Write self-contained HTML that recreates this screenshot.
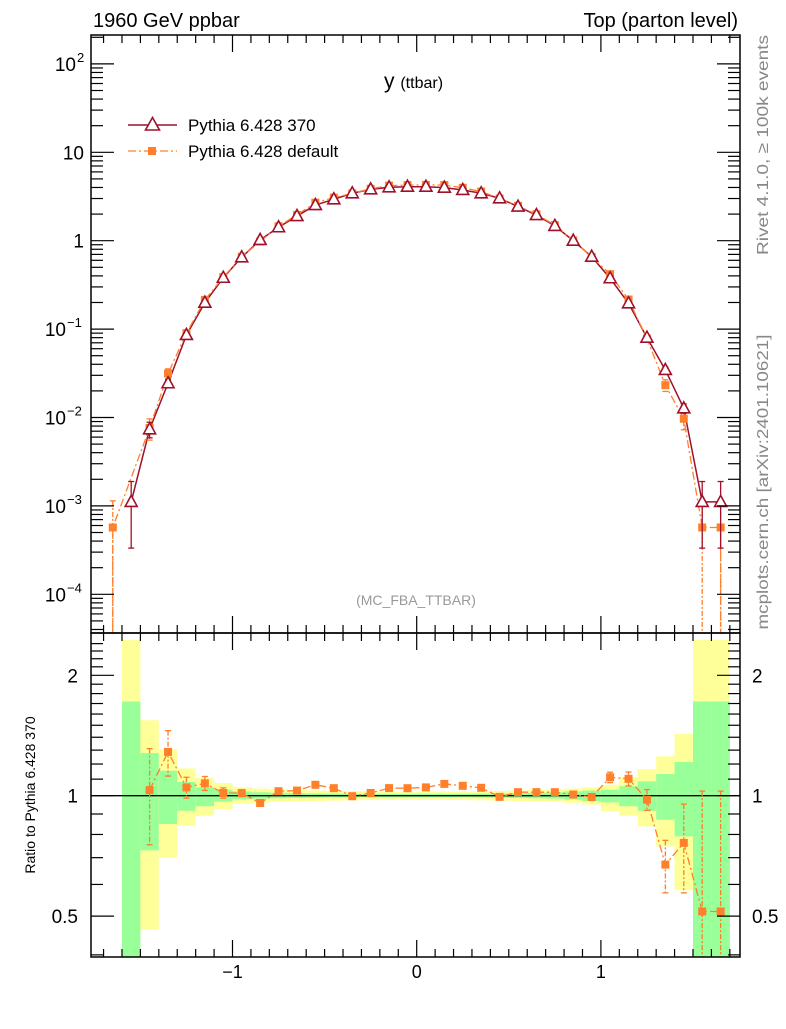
<!DOCTYPE html>
<html><head><meta charset="utf-8"><style>
html,body{margin:0;padding:0;background:#fff;}
svg text{font-family:"Liberation Sans",sans-serif;}
</style></head><body>
<svg id="c" width="786" height="1024" xmlns="http://www.w3.org/2000/svg">
<g id="bands"></g>
<g id="marks"></g>
<g id="axes"></g>
<text x="93" y="27" font-size="20">1960 GeV ppbar</text>
<text x="738" y="27" font-size="20" text-anchor="end">Top (parton level)</text>
<text x="384" y="88" font-size="21">y <tspan font-size="16">(ttbar)</tspan></text>
<g>
<g>
<line x1="128" y1="125" x2="177" y2="125" stroke="#a0102a" stroke-width="1.5"/>
<path d="M152.5,117.5 L159.5,130 L145.5,130 Z" fill="#fff" stroke="#a0102a" stroke-width="1.6"/>
<text x="188" y="131" font-size="17">Pythia 6.428 370</text></g>
<g>
<line x1="128" y1="151" x2="177" y2="151" stroke="#ff7f2a" stroke-width="1.3" stroke-dasharray="8,3,2,3"/>
<rect x="148" y="147" width="8" height="8" fill="#ff7f2a"/>
<text x="188" y="157" font-size="17">Pythia 6.428 default</text></g>
</g>
<text x="416" y="605" font-size="14" fill="#999" text-anchor="middle">(MC_FBA_TTBAR)</text>
<text transform="translate(768,145) rotate(-90)" font-size="16" fill="#888" text-anchor="middle" textLength="220" lengthAdjust="spacingAndGlyphs">Rivet 4.1.0, ≥ 100k events</text>
<text transform="translate(768,482) rotate(-90)" font-size="16" fill="#888" text-anchor="middle" textLength="295" lengthAdjust="spacingAndGlyphs">mcplots.cern.ch [arXiv:2401.10621]</text>
<text transform="translate(35,795) rotate(-90)" font-size="14" text-anchor="middle">Ratio to Pythia 6.428 370</text>
</svg>
<script>
// bin centers
const centers = [-1.65,-1.55,-1.45,-1.35,-1.25,-1.15,-1.05,-0.95,-0.85,-0.75,-0.65,-0.55,-0.45,-0.35,-0.25,-0.15,-0.05,0.05,0.15,0.25,0.35,0.45,0.55,0.65,0.75,0.85,0.95,1.05,1.15,1.25,1.35,1.45,1.55,1.65];
const refVals = [null,1.11e-3,7.36e-3,0.0244,0.0858,0.199,0.381,0.649,1.02,1.42,1.90,2.53,2.94,3.44,3.81,4.02,4.08,4.08,3.98,3.75,3.44,3.02,2.43,1.95,1.47,1.0,0.659,0.376,0.196,0.080,0.0345,0.0127,1.11e-3,1.11e-3];
const refErr = [0,0.7,0.2,0.1,0.05,0.03,0.02,0.015,0.01,0.01,0.01,0.01,0.01,0.01,0.01,0.01,0.01,0.01,0.01,0.01,0.01,0.01,0.01,0.01,0.01,0.01,0.015,0.02,0.03,0.05,0.08,0.12,0.7,0.7];
const defVals = [5.7e-4,null,7.6e-3,0.0314,0.090,0.2137,0.387,0.659,0.978,1.457,1.957,2.694,3.07,3.43,3.87,4.20,4.26,4.28,4.26,3.97,3.60,3.00,2.48,1.99,1.50,1.007,0.654,0.418,0.216,0.0782,0.0232,0.00968,5.7e-4,5.7e-4];
const defErr = [1.0,0,0.27,0.13,0.06,0.04,0.03,0.02,0.015,0.015,0.015,0.015,0.015,0.015,0.015,0.015,0.015,0.015,0.015,0.015,0.015,0.015,0.015,0.015,0.015,0.015,0.02,0.03,0.04,0.06,0.15,0.25,1.0,1.0];
// ref uncertainty bands in ratio units (per bin, same order as centers)
const greenUp = [null,1.72,1.278,1.155,1.082,1.05,1.035,1.025,1.02,1.017,1.015,1.013,1.012,1.011,1.01,1.01,1.01,1.01,1.01,1.011,1.012,1.013,1.015,1.017,1.02,1.025,1.03,1.035,1.056,1.086,1.133,1.214,1.72,1.72];
const greenDn = [null,0.01,0.73,0.85,0.917,0.941,0.966,0.98,0.983,0.985,0.987,0.988,0.989,0.99,0.99,0.99,0.99,0.99,0.99,0.99,0.989,0.988,0.987,0.985,0.983,0.978,0.97,0.962,0.941,0.917,0.871,0.791,0.01,0.01];
const yellowUp = [null,2.45,1.544,1.308,1.17,1.107,1.076,1.05,1.042,1.037,1.033,1.03,1.028,1.026,1.025,1.024,1.024,1.024,1.024,1.025,1.026,1.028,1.03,1.033,1.037,1.042,1.05,1.065,1.113,1.166,1.254,1.427,2.45,2.45];
const yellowDn = [null,0.01,0.462,0.699,0.841,0.891,0.926,0.955,0.96,0.965,0.968,0.97,0.972,0.974,0.975,0.976,0.976,0.976,0.976,0.975,0.974,0.972,0.97,0.968,0.965,0.96,0.95,0.914,0.891,0.838,0.747,0.58,0.01,0.01];
const xTicks = [-1,0,1];
const xTickLabels = ["\u22121","0","1"];

const NS="http://www.w3.org/2000/svg";
const L=91,R=740,T=35,MB=633,B=957;
const X=x=>416.7+184.2*x;
const Y=v=>240.7-88.4*Math.log10(v);
const RY=r=>795.7-400*Math.log10(r);
const clipM=y=>Math.max(T,Math.min(MB,y));
const clipR=y=>Math.max(MB,Math.min(B,y));
function el(tag,attrs,parent){const e=document.createElementNS(NS,tag);for(const k in attrs)e.setAttribute(k,attrs[k]);parent.appendChild(e);return e;}
const bands=document.getElementById('bands'),marks=document.getElementById('marks'),axes=document.getElementById('axes');
const RED="#a0102a",OR="#ff7f2a";

centers.forEach((c,i)=>{
  if(yellowUp[i]==null)return;
  const x0=X(c-0.05),x1=X(c+0.05);
  const yb=el('rect',{x:x0,y:clipR(RY(yellowUp[i])),width:x1-x0,height:clipR(RY(yellowDn[i]))-clipR(RY(yellowUp[i])),fill:"#ffff99"},bands);
  
  
  const gb=el('rect',{x:x0,y:clipR(RY(greenUp[i])),width:x1-x0,height:clipR(RY(greenDn[i]))-clipR(RY(greenUp[i])),fill:"#99ff99"},bands);
  
  
});
el('line',{x1:L,x2:R,y1:RY(1),y2:RY(1),stroke:"#000","stroke-width":1.3},bands);

let pts=[];
centers.forEach((c,i)=>{if(refVals[i]!=null)pts.push(X(c)+','+Y(refVals[i]));});
const rl=el('polyline',{points:pts.join(' '),fill:"none",stroke:RED,"stroke-width":1.5},marks);


pts=[];
centers.forEach((c,i)=>{if(defVals[i]!=null)pts.push(X(c)+','+Y(defVals[i]));});
pts.unshift(X(centers[0])+','+MB);pts.push(X(centers[centers.length-1])+','+MB);
const dl=el('polyline',{points:pts.join(' '),fill:"none",stroke:OR,"stroke-width":1.3,"stroke-dasharray":"8,3,2,3"},marks);


function errbar(x,ytop,ybot,col,dash,parent,capTop,capBot){
  el('line',{x1:x,x2:x,y1:ytop,y2:ybot,stroke:col,"stroke-width":1.3,"stroke-dasharray":dash||"none"},parent);
  if(capTop)el('line',{x1:x-3,x2:x+3,y1:ytop,y2:ytop,stroke:col,"stroke-width":1.3},parent);
  if(capBot)el('line',{x1:x-3,x2:x+3,y1:ybot,y2:ybot,stroke:col,"stroke-width":1.3},parent);
}
centers.forEach((c,i)=>{
  const x=X(c);
  if(defVals[i]!=null){
    const v=defVals[i],e=defErr[i];
    const lo=v*(1-e);
    const yt=clipM(Y(v*(1+e))),yb=lo>0?clipM(Y(lo)):MB;
    errbar(x,yt,yb,OR,"5,2,2,2",marks,true,lo>0);
    const s=el('rect',{x:x-4,y:Y(v)-4,width:8,height:8,fill:OR},marks);
    
    
  }
  if(refVals[i]!=null){
    const v=refVals[i],e=refErr[i];
    if(e>0.03)errbar(x,clipM(Y(v*(1+e))),clipM(Y(v*(1-e))),RED,null,marks,true,true);
    const y=Y(v);
    const t=el('path',{d:`M${x},${y-6.5} L${x+6},${y+4.5} L${x-6},${y+4.5} Z`,fill:"#fff",stroke:RED,"stroke-width":1.6},marks);
    
    
  }
});
pts=[];
const rpts=[];
centers.forEach((c,i)=>{
  if(defVals[i]!=null&&refVals[i]!=null){
    const r=defVals[i]/refVals[i];rpts.push([X(c),r,defErr[i]]);pts.push(X(c)+','+RY(r));
  }
});
el('polyline',{points:pts.join(' '),fill:"none",stroke:OR,"stroke-width":1.3,"stroke-dasharray":"8,3,2,3"},marks);
rpts.forEach(([x,r,e])=>{
  const lo=r*(1-e);
  errbar(x,clipR(RY(r*(1+e))),lo>0?clipR(RY(lo)):B,OR,"5,2,2,2",marks,true,lo>0&&RY(lo)<B);
  const s=el('rect',{x:x-4,y:RY(r)-4,width:8,height:8,fill:OR},marks);
  
  
});

el('rect',{x:L,y:T,width:R-L,height:MB-T,fill:"none",stroke:"#000","stroke-width":1.5},axes);
el('rect',{x:L,y:MB,width:R-L,height:B-MB,fill:"none",stroke:"#000","stroke-width":1.5},axes);
for(let k=-17;k<=17;k++){
  const x=X(k/10);if(x<L||x>R)continue;
  const maj=(k%10===0),len=maj?17:8;
  [[T,1],[MB,-1],[MB,1],[B,-1]].forEach(([y,d])=>el('line',{x1:x,x2:x,y1:y,y2:y+d*len,stroke:"#000","stroke-width":1.2},axes));
}
xTicks.forEach((t,i)=>{
  const tx=el('text',{x:X(t),y:978,"font-size":18,"text-anchor":"middle"},axes);
  tx.textContent=xTickLabels[i];
  
  
});
for(let d=-5;d<=2;d++){
  for(let m=1;m<=9;m++){
    const y=Y(m*Math.pow(10,d));if(y<T||y>MB)continue;
    const len=m===1?23:12;
    el('line',{x1:L,x2:L+len,y1:y,y2:y,stroke:"#000","stroke-width":1.2},axes);
    el('line',{x1:R,x2:R-len,y1:y,y2:y,stroke:"#000","stroke-width":1.2},axes);
  }
}
const yl=[[-4,"10","−4"],[-3,"10","−3"],[-2,"10","−2"],[-1,"10","−1"],[0,"1",""],[1,"10",""],[2,"10","2"]];
yl.forEach(([d,b,s])=>{
  const baseEnd = s ? (s.length>1 ? 66 : 76) : 84;
  const t=el('text',{x:baseEnd,y:Y(Math.pow(10,d))+7,"font-size":19,"text-anchor":"end"},axes);
  t.textContent=b;
  
  
  if(s){const sp=el('text',{x:baseEnd+1,y:Y(Math.pow(10,d))-2,"font-size":13},axes);sp.textContent=s;}
});
[0.4,0.5,0.6,0.7,0.8,0.9,1,2].forEach(r=>{
  const y=RY(r);const maj=(r===1||r===2||r===0.5);const len=maj?23:12;
  el('line',{x1:L,x2:L+len,y1:y,y2:y,stroke:"#000","stroke-width":1.2},axes);
  el('line',{x1:R,x2:R-len,y1:y,y2:y,stroke:"#000","stroke-width":1.2},axes);
});
for(let r=1.1;r<2.5;r+=0.1){if(Math.abs(r-2)<0.01)continue;const y=RY(r);
  el('line',{x1:L,x2:L+12,y1:y,y2:y,stroke:"#000","stroke-width":1.2},axes);
  el('line',{x1:R,x2:R-12,y1:y,y2:y,stroke:"#000","stroke-width":1.2},axes);}
[[2,"2"],[1,"1"],[0.5,"0.5"]].forEach(([r,s])=>{
  const a=el('text',{x:78,y:RY(r)+7,"font-size":19,"text-anchor":"end"},axes);a.textContent=s;
  
  
  const b=el('text',{x:752,y:RY(r)+7,"font-size":19},axes);b.textContent=s;
  
  
});
</script>
</body></html>
